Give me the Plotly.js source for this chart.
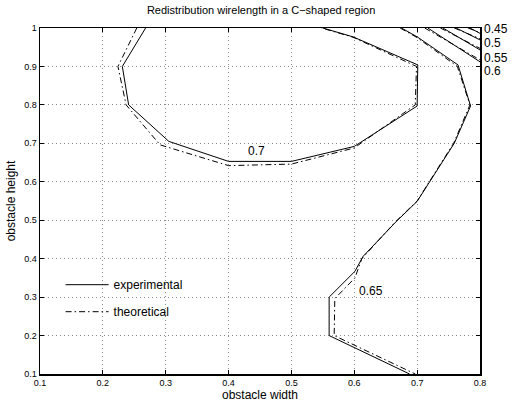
<!DOCTYPE html>
<html>
<head>
<meta charset="utf-8">
<script src="https://cdn.plot.ly/plotly-3.0.1.min.js"></script>
<style>html,body{margin:0;padding:0;background:#fff;}#chart{width:512px;height:402px;}</style>
</head>
<body>
<div id="chart"></div>
<script>
// Experimental (solid) contour lines
var exp070X = [0.268, 0.231, 0.241, 0.305, 0.400, 0.500, 0.600, 0.700, 0.701, 0.598, 0.550];
var exp070Y = [1.000, 0.900, 0.800, 0.705, 0.653, 0.653, 0.692, 0.797, 0.904, 0.977, 1.000];
var exp065X = [0.675, 0.700, 0.765, 0.785, 0.759, 0.700, 0.667, 0.614, 0.601, 0.560, 0.560, 0.688];
var exp065Y = [1.000, 0.977, 0.904, 0.797, 0.700, 0.549, 0.497, 0.406, 0.367, 0.300, 0.200, 0.100];
var exp060X = [0.717, 0.800];
var exp060Y = [1.000, 0.912];
var exp055X = [0.741, 0.800];
var exp055Y = [1.000, 0.943];
var exp050X = [0.762, 0.800];
var exp050Y = [1.000, 0.969];
var exp045X = [0.784, 0.800];
var exp045Y = [1.000, 0.986];

// Theoretical (dash-dot) contour lines
var th070X = [0.254, 0.224, 0.237, 0.291, 0.400, 0.500, 0.600, 0.697, 0.699, 0.598, 0.548];
var th070Y = [1.000, 0.900, 0.800, 0.696, 0.642, 0.646, 0.688, 0.800, 0.900, 0.976, 1.000];
var th065X = [0.673, 0.700, 0.764, 0.784, 0.758, 0.700, 0.665, 0.612, 0.601, 0.569, 0.568, 0.697];
var th065Y = [1.000, 0.975, 0.900, 0.800, 0.700, 0.550, 0.495, 0.400, 0.350, 0.296, 0.200, 0.100];
var th060X = [0.712, 0.800];
var th060Y = [1.000, 0.917];
var th055X = [0.737, 0.800];
var th055Y = [1.000, 0.947];
var th050X = [0.759, 0.800];
var th050Y = [1.000, 0.972];
var th045X = [0.781, 0.800];
var th045Y = [1.000, 0.988];

// Contour labels
var labelText = ['0.7', '0.65'];
var labelX = [0.4445, 0.626];
var labelY = [0.679, 0.315];
var edgeLabels = ['0.45', '0.5', '0.55', '0.6'];
var edgeLabelY = [0.997, 0.961, 0.923, 0.887];

var xTicks = [0.1, 0.2, 0.3, 0.4, 0.5, 0.6, 0.7, 0.8];
var yTicks = [0.1, 0.2, 0.3, 0.4, 0.5, 0.6, 0.7, 0.8, 0.9, 1];

var FONT = 'Liberation Sans, Arial, Helvetica, sans-serif';
var expSets = [[exp070X, exp070Y], [exp065X, exp065Y], [exp060X, exp060Y], [exp055X, exp055Y], [exp050X, exp050Y], [exp045X, exp045Y]];
var thSets = [[th070X, th070Y], [th065X, th065Y], [th060X, th060Y], [th055X, th055Y], [th050X, th050Y], [th045X, th045Y]];

var traces = [];
expSets.forEach(function (s, i) {
  traces.push({x: s[0], y: s[1], type: 'scatter', mode: 'lines', name: 'experimental',
    legendgroup: 'exp', showlegend: i === 0, cliponaxis: true,
    line: {color: '#000', width: 1, dash: 'solid'}, hoverinfo: 'skip'});
});
thSets.forEach(function (s, i) {
  traces.push({x: s[0], y: s[1], type: 'scatter', mode: 'lines', name: 'theoretical',
    legendgroup: 'th', showlegend: i === 0, cliponaxis: true,
    line: {color: '#000', width: 1, dash: '6px,3px,1.5px,3px'}, hoverinfo: 'skip'});
});

var annotations = [];
labelText.forEach(function (t, i) {
  annotations.push({x: labelX[i], y: labelY[i], xref: 'x', yref: 'y', text: t, showarrow: false,
    font: {family: FONT, size: 12, color: '#000'}});
});
edgeLabels.forEach(function (t, i) {
  annotations.push({x: 0.8, y: edgeLabelY[i], xref: 'x', yref: 'y', text: t, showarrow: false,
    xanchor: 'left', xshift: 3, borderpad: 0, font: {family: FONT, size: 12, color: '#000'}});
});

var axisCommon = {
  showgrid: true, gridcolor: '#8a8a8a', griddash: '1px,3px', gridwidth: 1,
  zeroline: false, showline: true, linecolor: '#000', linewidth: 1.5, mirror: 'ticks',
  ticks: 'inside', ticklen: 4, tickcolor: '#000', tickwidth: 1,
  tickfont: {family: FONT, size: 9, color: '#000'}
};

var layout = {
  width: 512, height: 402,
  margin: {l: 40, r: 32, t: 28, b: 28},
  paper_bgcolor: '#fff', plot_bgcolor: '#fff',
  title: {text: 'Redistribution wirelength in a C\u2212shaped region', x: 0.51, xanchor: 'center',
    y: 0.985, yanchor: 'top', font: {family: FONT, size: 11, color: '#000'}},
  xaxis: Object.assign({}, axisCommon, {range: [0.1, 0.8], tickvals: xTicks,
    ticktext: xTicks.map(String),
    title: {text: 'obstacle width', standoff: 6, font: {family: FONT, size: 12, color: '#000'}}}),
  yaxis: Object.assign({}, axisCommon, {range: [0.1, 1], tickvals: yTicks,
    ticktext: yTicks.map(String),
    title: {text: 'obstacle height', standoff: 6, font: {family: FONT, size: 12, color: '#000'}}}),
  showlegend: true,
  legend: {x: 0.0468, y: 0.30, xanchor: 'left', yanchor: 'top', bgcolor: 'rgba(0,0,0,0)',
    borderwidth: 0, tracegroupgap: 8, itemwidth: 43, font: {family: FONT, size: 12, color: '#000'}},
  annotations: annotations
};

Plotly.newPlot('chart', traces, layout, {displayModeBar: false, staticPlot: true});
</script>
</body>
</html>
